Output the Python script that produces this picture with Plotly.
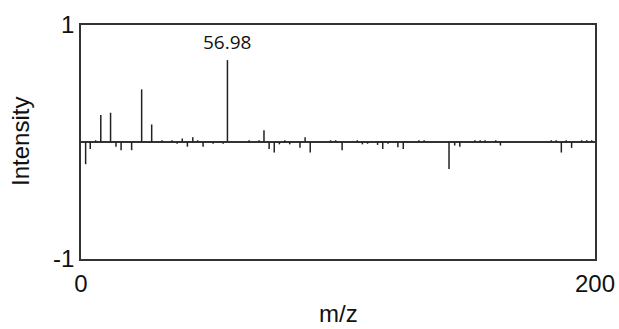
import plotly.graph_objects as go

# Upper spectrum: m/z and relative intensity
mz_top = [5.7, 7.7, 11.5, 23.6, 27.5, 31.5, 35.4, 39.4, 43.5, 45.4, 56.98,
          65.4, 69.3, 71.2, 79.3, 87.2, 97.1, 99.1, 107.5, 131.5, 133.5,
          153.3, 155.3, 157.2, 161.4, 183.0, 184.9, 188.8, 194.8, 196.8, 198.7]
int_top = [0.015, 0.23, 0.25, 0.45, 0.15, 0.015, 0.015, 0.03, 0.04, 0.015, 0.70,
           0.015, 0.015, 0.10, 0.015, 0.04, 0.015, 0.015, 0.015, 0.015, 0.015,
           0.015, 0.015, 0.015, 0.015, 0.015, 0.015, 0.015, 0.015, 0.015, 0.015]

# Lower (mirrored) spectrum: m/z and relative intensity
mz_bottom = [1.8, 3.6, 13.6, 15.6, 19.7, 37.4, 41.4, 47.5, 51.4, 55.3,
             73.2, 75.2, 77.2, 81.2, 85.2, 89.2, 101.6, 109.5, 111.5, 115.4,
             117.4, 119.5, 123.3, 125.4, 143.2, 145.4, 147.4, 163.2, 186.9, 190.9]
int_bottom = [0.19, 0.06, 0.04, 0.07, 0.07, 0.015, 0.04, 0.04, 0.015, 0.015,
              0.06, 0.09, 0.02, 0.02, 0.05, 0.09, 0.07, 0.02, 0.015, 0.025,
              0.06, 0.015, 0.045, 0.06, 0.23, 0.03, 0.04, 0.03, 0.09, 0.05]

label_mz = 56.98
label_int = 0.70

x_ticks = [0, 200]
y_ticks = [-1, 1]


def stems(xs, ys, sign):
    sx, sy = [], []
    for x, y in zip(xs, ys):
        sx += [x, x, None]
        sy += [0, sign * y, None]
    return sx, sy


tx, ty = stems(mz_top, int_top, 1)
bx, by = stems(mz_bottom, int_bottom, -1)

fig = go.Figure()
fig.add_trace(go.Scatter(x=tx, y=ty, mode="lines",
                         line=dict(color="#222222", width=1.5),
                         hoverinfo="skip", showlegend=False))
fig.add_trace(go.Scatter(x=bx, y=by, mode="lines",
                         line=dict(color="#222222", width=1.5),
                         hoverinfo="skip", showlegend=False))

fig.add_annotation(x=label_mz, y=label_int, text=f"{label_mz:.2f}",
                   showarrow=False, yanchor="bottom", yshift=3,
                   font=dict(family="Open Sans", size=19, color="#111111"))

axis_font = dict(family="Liberation Sans, Arial", size=24, color="#111111")

# Axis titles
fig.add_annotation(x=0.5, y=0, xref="paper", yref="paper", text="m/z",
                   showarrow=False, xanchor="center", yanchor="top", yshift=-39,
                   font=axis_font)
fig.add_annotation(x=0, y=0.5, xref="paper", yref="paper", text="Intensity",
                   showarrow=False, textangle=-90, xanchor="center", yanchor="middle",
                   xshift=-61, font=axis_font)

fig.update_xaxes(range=[0, 200], tickvals=x_ticks, ticktext=[str(v) for v in x_ticks],
                 showgrid=False, zeroline=False, showline=True, mirror=True,
                 linecolor="#333333", linewidth=1.5, ticks="",
                 tickfont=axis_font, ticklabelstandoff=2, automargin=False)
fig.update_yaxes(range=[-1, 1], tickvals=y_ticks, ticktext=[str(v) for v in y_ticks],
                 showgrid=False, zeroline=True, zerolinecolor="#333333", zerolinewidth=1.5,
                 showline=True, mirror=True,
                 linecolor="#333333", linewidth=1.5, ticks="",
                 tickfont=axis_font, automargin=False)

fig.update_layout(width=619, height=329,
                  margin=dict(l=81, r=24, t=25, b=70),
                  plot_bgcolor="white", paper_bgcolor="white")

fig.write_html("out.html")
